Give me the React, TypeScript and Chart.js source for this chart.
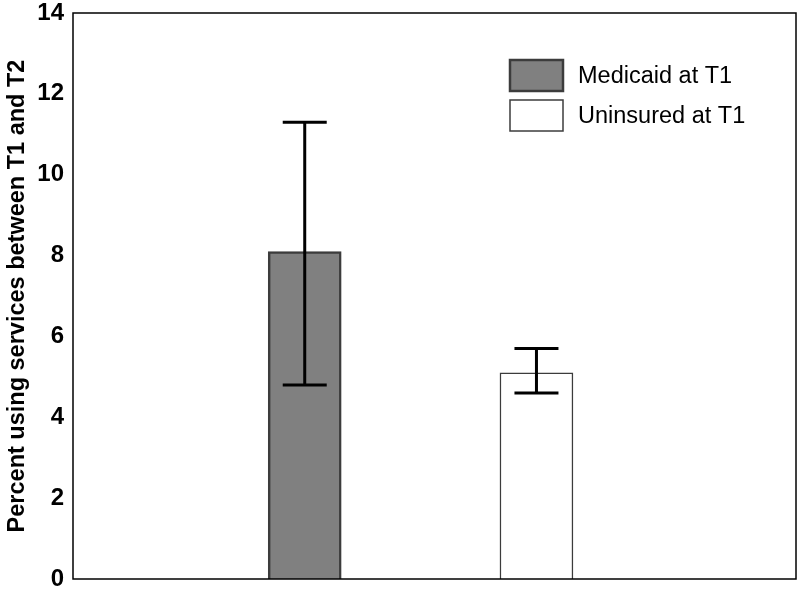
import React, { useEffect, useRef } from "react";
import { Chart, registerables } from "chart.js";

Chart.register(...registerables);

const seriesLabels = ["Medicaid at T1", "Uninsured at T1"];
const positions = [1, 2];
const values = [8.1, 5.1];
const errLow = [4.8, 4.6];
const errHigh = [11.3, 5.7];
const fills = ["#808080", "#ffffff"];
const borders = ["#3c3c3c", "#3c3c3c"];
const yTitle = "Percent using services between T1 and T2";

const FONT = "'Liberation Sans', Arial, sans-serif";

const errorBarPlugin = {
  id: "errorBars",
  afterDatasetsDraw(chart: any) {
    const ctx = chart.ctx;
    const y = chart.scales.y;
    ctx.save();
    ctx.strokeStyle = "#000";
    ctx.lineWidth = 3;
    chart.data.datasets.forEach((ds: any, i: number) => {
      const meta = chart.getDatasetMeta(i);
      const el = meta.data[0];
      if (!el) return;
      const x = el.x;
      const yl = y.getPixelForValue(errLow[i]);
      const yh = y.getPixelForValue(errHigh[i]);
      const hw = 22;
      ctx.beginPath();
      ctx.moveTo(x, yl);
      ctx.lineTo(x, yh);
      ctx.moveTo(x - hw, yl);
      ctx.lineTo(x + hw, yl);
      ctx.moveTo(x - hw, yh);
      ctx.lineTo(x + hw, yh);
      ctx.stroke();
    });
    ctx.restore();
  },
};

const framePlugin = {
  id: "frame",
  afterDraw(chart: any) {
    const { ctx, chartArea: a } = chart;
    ctx.save();
    ctx.strokeStyle = "#000";
    ctx.lineWidth = 1.5;
    ctx.strokeRect(a.left, a.top, a.right - a.left, a.bottom - a.top);
    ctx.restore();
  },
};

const legendPlugin = {
  id: "insideLegend",
  afterDraw(chart: any) {
    const { ctx, chartArea: a } = chart;
    ctx.save();
    const bx = a.left + 437;
    const bw = 53;
    const bh = 31;
    const tops = [a.top + 47, a.top + 87];
    chart.data.datasets.forEach((ds: any, i: number) => {
      const t = tops[i];
      ctx.fillStyle = ds.backgroundColor;
      ctx.fillRect(bx, t, bw, bh);
      ctx.strokeStyle = ds.borderColor;
      ctx.lineWidth = i === 0 ? 2.5 : 1.5;
      ctx.strokeRect(bx, t, bw, bh);
      ctx.fillStyle = "#000";
      ctx.font = `23.5px ${FONT}`;
      ctx.textBaseline = "middle";
      ctx.textAlign = "left";
      ctx.fillText(ds.label, bx + 68, t + bh / 2 + 1);
    });
    ctx.restore();
  },
};

export default function App() {
  const ref = useRef<HTMLCanvasElement>(null);
  useEffect(() => {
    if (!ref.current) return;
    const chart = new Chart(ref.current, {
      type: "bar",
      data: {
        datasets: seriesLabels.map((label, i) => ({
          label,
          data: [{ x: positions[i], y: values[i] }],
          backgroundColor: fills[i],
          borderColor: borders[i],
          borderWidth: i === 0 ? 2.5 : 1.5,
          barThickness: 73,
          grouped: false,
        })),
      },
      options: {
        animation: false,
        responsive: false,
        maintainAspectRatio: false,
        layout: { padding: { top: 13, right: 4, bottom: 13, left: 0 } },
        plugins: { legend: { display: false }, tooltip: { enabled: false } },
        scales: {
          x: {
            type: "linear",
            min: 0,
            max: 3.12,
            offset: false,
            display: false,
          },
          y: {
            min: 0,
            max: 14,
            ticks: {
              stepSize: 2,
              color: "#000",
              padding: 9,
              font: { family: FONT, size: 24, weight: "bold" },
            },
            grid: { display: false, drawTicks: false },
            border: { display: false },
            title: {
              display: true,
              text: yTitle,
              color: "#000",
              padding: { top: 3, bottom: 0 },
              font: { family: FONT, size: 23.5, weight: "bold" },
            },
            afterFit(scale: any) {
              scale.width = 73;
              scale.paddingTop = 0;
              scale.paddingBottom = 0;
            },
          },
        },
      } as any,
      plugins: [errorBarPlugin, framePlugin, legendPlugin],
    });
    return () => chart.destroy();
  }, []);
  return (
    <div style={{ position: "fixed", left: 0, top: 0, width: 800, height: 592, background: "#fff" }}>
      <canvas ref={ref} width={800} height={592} style={{ width: 800, height: 592 }} />
    </div>
  );
}
